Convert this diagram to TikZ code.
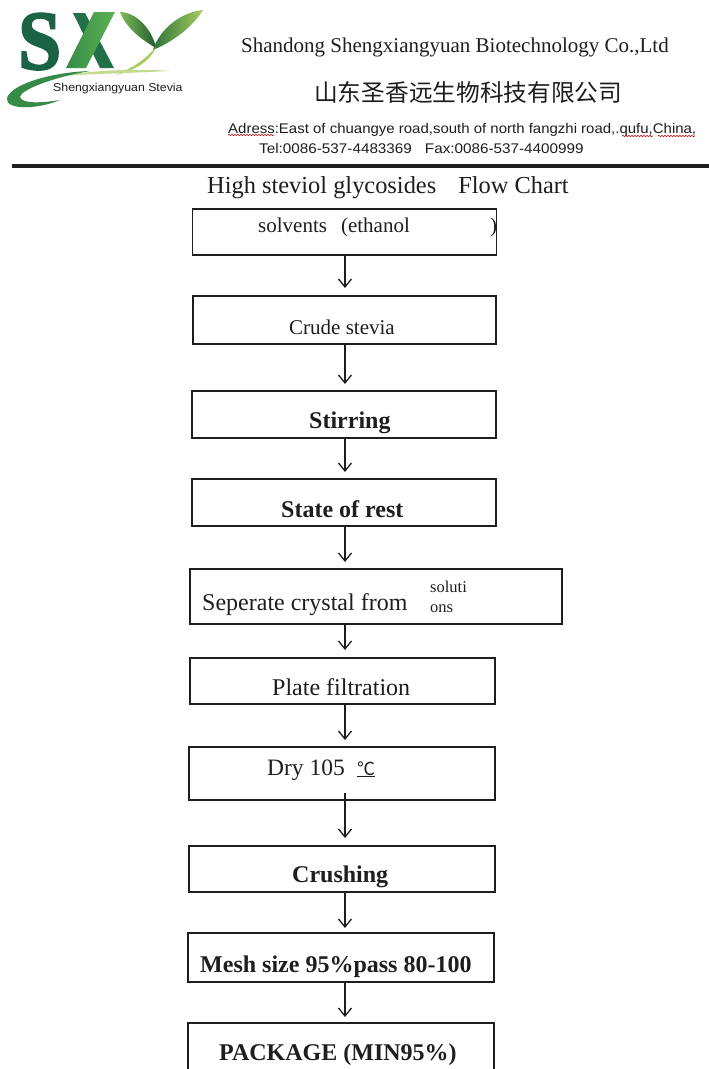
\documentclass[tikz,border=0pt]{standalone}
\usepackage{fontspec}
\setmainfont{Liberation Serif}
\newfontfamily\hdsans{Liberation Sans}
\newfontfamily\cjkfont{Noto Sans CJK SC}
\newfontfamily\logofont[BoldFeatures={FakeBold=2.5}]{Liberation Serif}
\usetikzlibrary{arrows.meta,decorations.pathmorphing}
\definecolor{ink}{HTML}{1E1E1E}
\definecolor{logodark}{HTML}{1A6344}
\definecolor{logomid}{HTML}{3FA552}
\definecolor{logolight}{HTML}{A8CC5E}
\tikzset{
  flowbox/.style={draw=ink,line width=1.4pt,rectangle,inner sep=0pt,fill=white},
  flowarrow/.style={draw=ink,line width=1.3pt,-{Straight Barb[length=8pt,width=13pt,line width=1.3pt]}},
  txt/.style={inner sep=0pt,text=ink,anchor=base west},
  squiggle/.style={draw=red!70!black,line width=.6pt,decorate,decoration={snake,amplitude=.6pt,segment length=3pt}},
}
\newcommand{\fs}[1]{\fontsize{#1}{#1}\selectfont}
\begin{document}
\begin{tikzpicture}[x=1pt,y=-1pt]
\useasboundingbox (0,0) rectangle (709,1069);
\fill[white] (0,0) rectangle (709,1069);
% logo
\node[txt,text=logodark,font=\logofont\bfseries\fs{84},xscale=.92] (logoS) at (18,69) {S};
% X drawn as a stylised mark
\fill[logodark!80!logomid] (73,13) -- (85,13) -- (114,68) -- (100,68) -- cycle;
\shade[left color=logomid!85!black,right color=logomid!70!logolight] (94,12) -- (115,12) -- (86,68) -- (66,68) -- cycle;
% Y leaves
\shade[left color=logolight!60!logomid,right color=logomid!55!black] (120,12) .. controls (135,12) and (152,28) .. (156,48) .. controls (142,40) and (126,28) .. (120,12) -- cycle;
\shade[left color=logomid!70!black,right color=logolight] (203,10) .. controls (182,12) and (160,28) .. (153,50) .. controls (172,42) and (192,28) .. (203,10) -- cycle;
\fill[logolight] (156,47) .. controls (145,60) and (132,68) .. (116,75) .. controls (135,70) and (150,62) .. (156,47) -- cycle;
% swoosh
\fill[logolight!70!white] (170,71) .. controls (130,68) and (90,71) .. (60,76) .. controls (90,74) and (130,73) .. (170,71) -- cycle;
\fill[logomid!85!black] (90,71) .. controls (55,72) and (12,83) .. (7,98) .. controls (5,110) and (36,110) .. (60,100) .. controls (42,103) and (22,104) .. (20,97) .. controls (21,90) and (50,78) .. (90,71) -- cycle;
\node[txt,font=\hdsans\fs{11.5},xscale=1.07] (logotext) at (53,91) {Shengxiangyuan Stevia};
% header
\node[txt,font=\fs{21}] (company) at (241,52) {Shandong Shengxiangyuan Biotechnology Co.,Ltd};
\node[txt,font=\cjkfont\fs{23.7}] (cn) at (314,101) {山东圣香远生物科技有限公司};
\node[txt,font=\hdsans\fs{14},xscale=1.07] (addr) at (228,133) {Adress:East of chuangye road,south of north fangzhi road,.qufu,China,};
\node[txt,font=\hdsans\fs{14},xscale=1.09] (tel) at (259,153) {Tel:0086-537-4483369\hspace{12pt}Fax:0086-537-4400999};
\draw[squiggle] (228,135) -- (274,135);
\draw[squiggle] (622,136) -- (653,136);
\draw[squiggle] (658,136) -- (695,136);
\fill[ink] (12,163.5) rectangle (709,167.5);
\node[txt,font=\fs{24.4}] (title) at (207,193) {High steviol glycosides\hspace{22pt}Flow Chart};
% boxes
\node[flowbox,minimum width=304pt,minimum height=46pt] (b1) at (344.7,232) {};
\node[flowbox,minimum width=303pt,minimum height=48pt] (b2) at (344.5,320) {};
\node[flowbox,minimum width=304pt,minimum height=47pt] (b3) at (344,414.5) {};
\node[flowbox,minimum width=304pt,minimum height=47pt] (b4) at (344,502.5) {};
\node[flowbox,minimum width=372pt,minimum height=55pt] (b5) at (376,596.5) {};
\node[flowbox,minimum width=305pt,minimum height=46pt] (b6) at (342.5,681) {};
\node[flowbox,minimum width=306pt,minimum height=53pt] (b7) at (342,773.5) {};
\node[flowbox,minimum width=306pt,minimum height=46pt] (b8) at (342,869) {};
\node[flowbox,minimum width=306pt,minimum height=49pt] (b9) at (341,957.5) {};
\node[flowbox,minimum width=306pt,minimum height=60pt] (b10) at (341,1053) {};
% labels
\node[txt,font=\fs{21}] (l1) at (258,232) {solvents\hspace{14pt}(ethanol};
\node[txt,font=\fs{21}] (l1b) at (490,232) {)};
\node[txt,font=\fs{21}] (l2) at (289,334) {Crude stevia};
\node[txt,font=\bfseries\fs{24}] (l3) at (309,428) {Stirring};
\node[txt,font=\bfseries\fs{24}] (l4) at (281,517) {State of rest};
\node[txt,font=\fs{24}] (l5) at (202,610) {Seperate crystal from};
\node[txt,font=\fs{16.5}] (l5a) at (430,592) {soluti};
\node[txt,font=\fs{16.5}] (l5b) at (430,612) {ons};
\node[txt,font=\fs{24}] (l6) at (272,695) {Plate filtration};
\node[txt,font=\fs{23.5}] (l7) at (267,775) {Dry 105};
\node[txt,font=\cjkfont\fs{18}] (l7b) at (357,775) {\underline{℃}};
\node[txt,font=\bfseries\fs{24}] (l8) at (292,882) {Crushing};
\node[txt,font=\bfseries\fs{24}] (l9) at (200,972) {Mesh size 95\%pass 80-100};
\node[txt,font=\bfseries\fs{24}] (l10) at (219,1060) {PACKAGE (MIN95\%)};
% arrows
\draw[flowarrow] (b1.south -| 345,0) -- (345,288);
\draw[flowarrow] (b2.south -| 345,0) -- (345,384);
\draw[flowarrow] (b3.south -| 345,0) -- (345,472);
\draw[flowarrow] (b4.south -| 345,0) -- (345,562);
\coordinate (c5) at (345,650);
\draw[flowarrow] (b5.south -| c5) -- (c5);
\coordinate (c6) at (345,740);
\draw[flowarrow] (b6.south -| c6) -- (c6);
\coordinate (c7) at (345,838);
\coordinate (s7) at (345,793);
\draw[flowarrow] (s7) -- (c7);
\coordinate (c8) at (345,928);
\draw[flowarrow] (b8.south -| c8) -- (c8);
\coordinate (c9) at (345,1017);
\draw[flowarrow] (b9.south -| c9) -- (c9);
\end{tikzpicture}
\end{document}
